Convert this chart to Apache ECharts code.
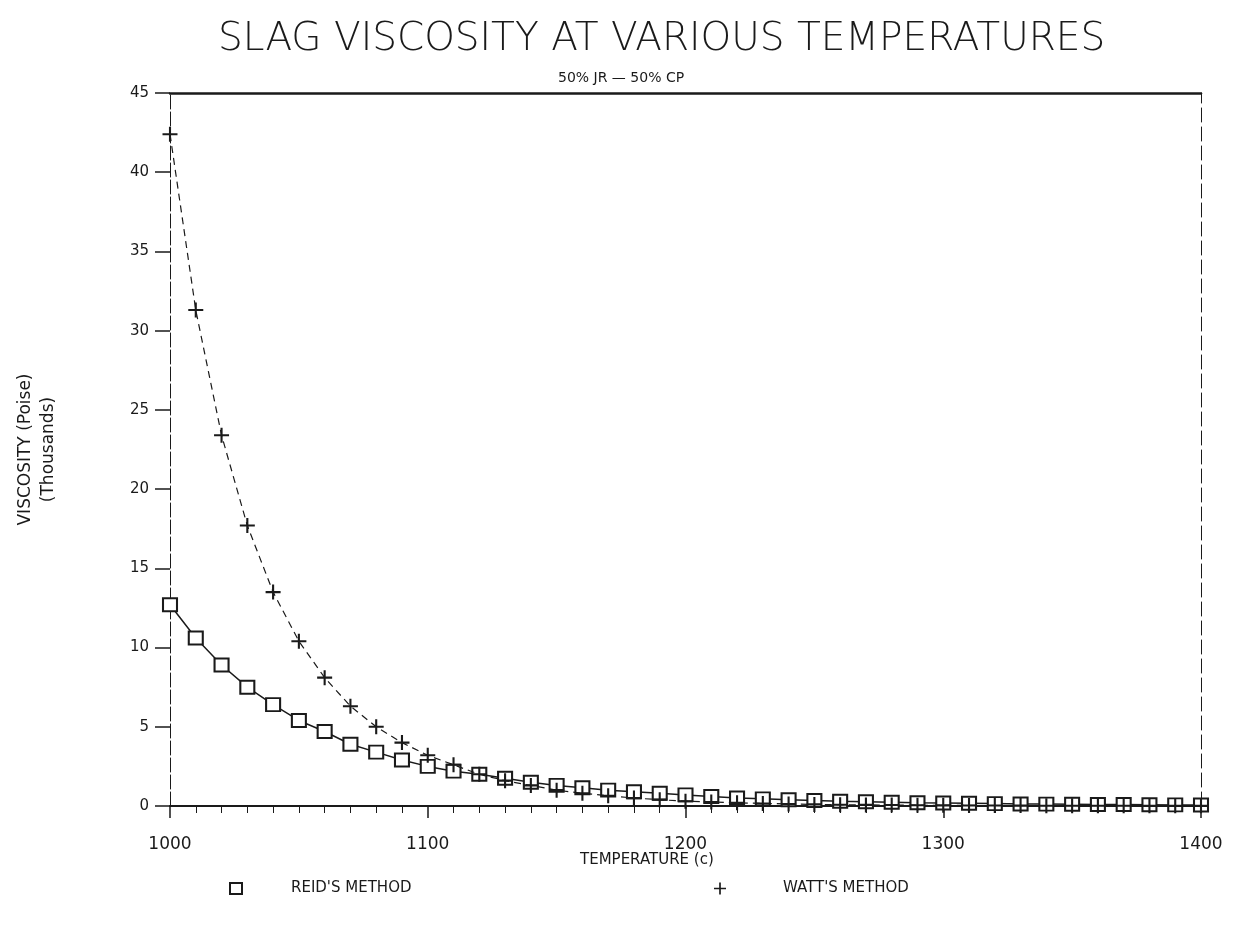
<!DOCTYPE html>
<html>
<head>
<meta charset="utf-8">
<script src="https://cdn.jsdelivr.net/npm/echarts@6/dist/echarts.min.js"></script>
<style>
  html, body { margin: 0; padding: 0; background: #fff; }
  #chart { width: 1235px; height: 929px; }
</style>
</head>
<body>
<div id="chart"></div>
<script>
// temperatures (c), every 10 degrees
var temps = [];
for (var t = 1000; t <= 1400; t += 10) temps.push(t);

// viscosity in thousands of poise
var reid = [12.7, 10.6, 8.9, 7.5, 6.4, 5.4, 4.7, 3.9, 3.4, 2.9,
            2.5, 2.2, 2.0, 1.75, 1.5, 1.3, 1.15, 1.0, 0.9, 0.8,
            0.7, 0.6, 0.5, 0.45, 0.4, 0.35, 0.3, 0.27, 0.24, 0.21,
            0.19, 0.17, 0.15, 0.13, 0.12, 0.11, 0.1, 0.09, 0.08, 0.07, 0.06];
var watt = [42.4, 31.3, 23.4, 17.7, 13.5, 10.4, 8.1, 6.3, 5.0, 4.0,
            3.2, 2.6, 2.0, 1.6, 1.3, 1.0, 0.8, 0.65, 0.5, 0.4,
            0.3, 0.25, 0.2, 0.16, 0.13, 0.1, 0.08, 0.07, 0.06, 0.05,
            0.04, 0.035, 0.03, 0.025, 0.02, 0.02, 0.015, 0.015, 0.01, 0.01, 0.01];

var xTicks = [1000, 1100, 1200, 1300, 1400];
var yTicks = [0, 5, 10, 15, 20, 25, 30, 35, 40, 45];

var plus = 'path://M4.3,0 H5.7 V4.3 H10 V5.7 H5.7 V10 H4.3 V5.7 H0 V4.3 H4.3 Z';
var font = '"DejaVu Sans", "Liberation Sans", sans-serif';
var ink = '#1a1a1a';

var chart = echarts.init(document.getElementById('chart'));
chart.setOption({
  animation: false,
  backgroundColor: '#fff',
  title: [
    {
      text: 'SLAG VISCOSITY AT VARIOUS TEMPERATURES',
      left: 213, top: 15,
      textStyle: { fontFamily: font, fontSize: 39, fontWeight: 'lighter', color: ink }
    },
    {
      text: '50% JR \u2014 50% CP',
      left: 553, top: 66,
      textStyle: { fontFamily: font, fontSize: 14, fontWeight: 'normal', color: ink }
    },
    {
      text: 'TEMPERATURE (c)',
      left: 575, top: 848,
      textStyle: { fontFamily: font, fontSize: 15, fontWeight: 'normal', color: ink }
    }
  ],
  legend: [
    {
      data: [{ name: "REID'S METHOD", icon: 'emptyRect' }],
      left: 224, top: 876, itemWidth: 12, itemHeight: 11,
      textStyle: { fontFamily: font, fontSize: 15, color: ink, padding: [0, 0, 0, 44] }
    },
    {
      data: [{ name: "WATT'S METHOD", icon: plus }],
      left: 709, top: 876, itemWidth: 12, itemHeight: 12,
      textStyle: { fontFamily: font, fontSize: 15, color: ink, padding: [0, 0, 0, 52] }
    }
  ],
  grid: { left: 170, right: 34, top: 93, bottom: 123, outerBoundsMode: 'none', containLabel: false },
  xAxis: [
    {
      type: 'value', min: xTicks[0], max: xTicks[xTicks.length - 1], interval: 100,
      axisLine: { lineStyle: { color: ink, width: 2 } },
      axisTick: { inside: false, length: 12, lineStyle: { color: ink, width: 1.5 } },
      minorTick: { show: true, splitNumber: 10, length: 7, lineStyle: { color: ink } },
      axisLabel: {
        margin: 30, fontFamily: font, fontSize: 17, color: ink,
        formatter: function (v) { return String(v); }
      },
      splitLine: { show: false }
    },
    {
      type: 'value', position: 'top', min: 1000, max: 1400,
      axisLine: { show: true, onZero: false, lineStyle: { color: ink, width: 2.5 } },
      axisTick: { show: false }, axisLabel: { show: false }, splitLine: { show: false }
    }
  ],
  yAxis: [
    {
      type: 'value', min: yTicks[0], max: yTicks[yTicks.length - 1], interval: 5,
      name: 'VISCOSITY (Poise)\n(Thousands)', nameLocation: 'middle', nameGap: 110,
      nameTextStyle: { fontFamily: font, fontSize: 17, color: ink, lineHeight: 23 },
      axisLine: { show: true, onZero: false, lineStyle: { color: ink, width: 1, type: [14, 3] } },
      axisTick: { show: true, length: 15, lineStyle: { color: ink, width: 1.5 } },
      axisLabel: { margin: 21, fontFamily: font, fontSize: 15, color: ink },
      splitLine: { show: false }
    },
    {
      type: 'value', position: 'right', min: 0, max: 45,
      axisLine: { show: true, onZero: false, lineStyle: { color: ink, width: 1, type: [14, 5] } },
      axisTick: { show: false }, axisLabel: { show: false }, splitLine: { show: false }
    }
  ],
  series: [
    {
      name: "REID'S METHOD", type: 'line',
      data: temps.map(function (t, i) { return [t, reid[i]]; }),
      symbol: 'emptyRect', symbolSize: [14, 13],
      lineStyle: { color: ink, width: 1.5 },
      itemStyle: { color: ink, borderColor: ink, borderWidth: 1.8 },
      z: 3
    },
    {
      name: "WATT'S METHOD", type: 'line',
      data: temps.map(function (t, i) { return [t, watt[i]]; }),
      symbol: plus, symbolSize: 15,
      lineStyle: { color: ink, width: 1.2, type: [7, 5] },
      itemStyle: { color: ink },
      z: 4
    }
  ]
});
</script>
</body>
</html>
